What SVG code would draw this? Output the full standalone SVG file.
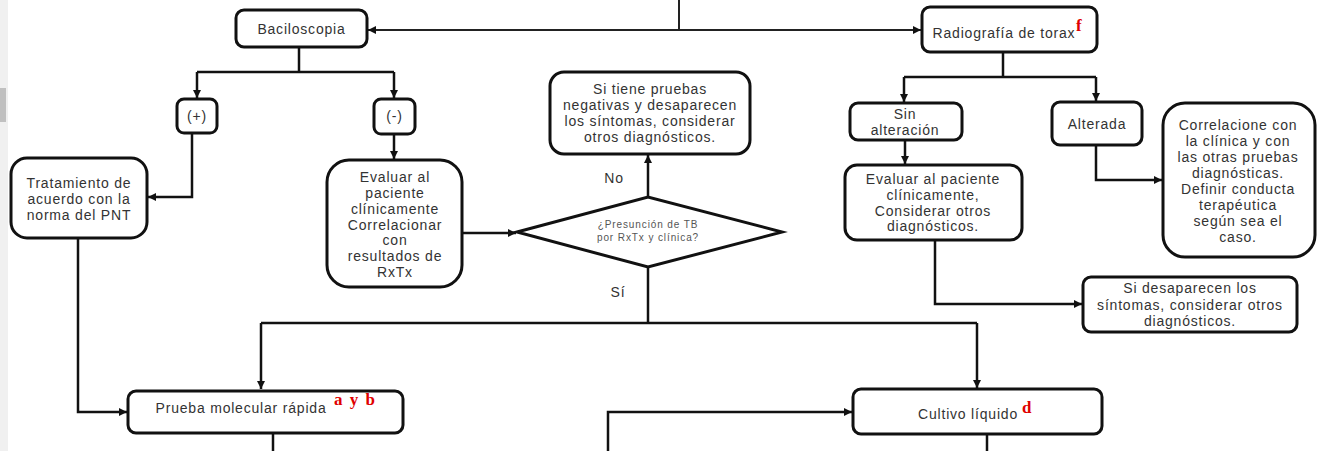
<svg xmlns="http://www.w3.org/2000/svg" width="1319" height="451" viewBox="0 0 1319 451">
  <defs>
    <marker id="arrow" viewBox="0 0 10 10" refX="10" refY="5" markerWidth="8" markerHeight="8" markerUnits="userSpaceOnUse" orient="auto">
      <path d="M0,0 L10,5 L0,10 z" fill="#111"/>
    </marker>
    <style>
      .box { fill: #fff; stroke: #111; stroke-width: 3; }
      .line { fill: none; stroke: #111; stroke-width: 2.5; }
      .thin { fill: none; stroke: #222; stroke-width: 2; }
      .t { font-family: "Liberation Sans", Arial, sans-serif; font-size: 14px; letter-spacing: 0.8px; fill: #333; text-anchor: middle; }
      .small { font-family: "Liberation Sans", Arial, sans-serif; font-size: 10px; letter-spacing: 0.9px; fill: #555; text-anchor: middle; }
      .sup { font-family: "Liberation Serif", "Times New Roman", serif; font-weight: bold; font-size: 17px; fill: #e00000; }
    </style>
  </defs>

  <!-- page background and viewer edge -->
  <rect x="0" y="0" width="1319" height="451" fill="#fff"/>
  <rect x="0" y="0" width="8" height="451" fill="#f0f0f0"/>
  <rect x="0" y="88" width="6" height="34" fill="#c0c0c0"/>

  <!-- connectors -->
  <g id="connectors">
    <path class="thin" d="M679,0 V30"/>
    <path class="thin" d="M679,30 H368" marker-end="url(#arrow)"/>
    <path class="thin" d="M679,30 H921" marker-end="url(#arrow)"/>

    <path class="line" d="M299,47 V72"/>
    <path class="line" d="M197,72 H394"/>
    <path class="line" d="M197,72 V98" marker-end="url(#arrow)"/>
    <path class="line" d="M394,72 V98" marker-end="url(#arrow)"/>

    <path class="line" d="M192,133 V197 H148" marker-end="url(#arrow)"/>
    <path class="line" d="M394,134 V159" marker-end="url(#arrow)"/>
    <path class="line" d="M78,238 V412 H127" marker-end="url(#arrow)"/>

    <path class="line" d="M462,233 H516" marker-end="url(#arrow)"/>
    <path class="line" d="M648,197 V155" marker-end="url(#arrow)"/>
    <path class="line" d="M648,267 V323"/>
    <path class="line" d="M261,323 H977"/>
    <path class="line" d="M261,323 V389" marker-end="url(#arrow)"/>
    <path class="line" d="M977,323 V388" marker-end="url(#arrow)"/>

    <path class="line" d="M273,433 V451"/>
    <path class="line" d="M608,451 V412 H852" marker-end="url(#arrow)"/>
    <path class="line" d="M987,434 V451"/>

    <path class="line" d="M1003,52 V77"/>
    <path class="line" d="M904,77 H1096"/>
    <path class="line" d="M904,77 V102" marker-end="url(#arrow)"/>
    <path class="line" d="M1096,77 V101" marker-end="url(#arrow)"/>
    <path class="line" d="M905,140 V164" marker-end="url(#arrow)"/>
    <path class="line" d="M1096,145 V180 H1162" marker-end="url(#arrow)"/>
    <path class="line" d="M935,240 V304 H1082" marker-end="url(#arrow)"/>
  </g>

  <!-- nodes -->
  <g id="baciloscopia">
    <rect class="box" x="236" y="10" width="131" height="37" rx="8"/>
    <text class="t" x="301.5" y="34">Baciloscopia</text>
  </g>

  <g id="positivo">
    <rect class="box" x="177" y="99" width="40" height="34" rx="7"/>
    <text class="t" x="197" y="121">(+)</text>
  </g>

  <g id="negativo">
    <rect class="box" x="374" y="99" width="41" height="35" rx="7"/>
    <text class="t" x="394.5" y="121">(-)</text>
  </g>

  <g id="tratamiento">
    <rect class="box" x="11" y="158" width="136" height="80" rx="16"/>
    <text class="t" x="79" y="188">Tratamiento de</text>
    <text class="t" x="79" y="204">acuerdo con la</text>
    <text class="t" x="79" y="220">norma del PNT</text>
  </g>

  <g id="evaluar-clinico">
    <rect class="box" x="327" y="160" width="135" height="127" rx="22"/>
    <text class="t" x="395" y="182">Evaluar al</text>
    <text class="t" x="395" y="198">paciente</text>
    <text class="t" x="395" y="214">clínicamente</text>
    <text class="t" x="395" y="230">Correlacionar</text>
    <text class="t" x="395" y="245">con</text>
    <text class="t" x="395" y="261">resultados de</text>
    <text class="t" x="395" y="277">RxTx</text>
  </g>

  <g id="presuncion">
    <polygon class="box" points="517,232 648,197 782,232 648,267"/>
    <text class="small" x="648" y="228">¿Presunción  de TB</text>
    <text class="small" x="648" y="241">por RxTx y clínica?</text>
  </g>

  <g id="labels">
    <text class="t" x="614" y="183">No</text>
    <text class="t" x="618" y="297">Sí</text>
  </g>

  <g id="pruebas-negativas">
    <rect class="box" x="550" y="72" width="200" height="82" rx="14"/>
    <text class="t" x="650" y="94">Si tiene pruebas</text>
    <text class="t" x="650" y="110">negativas y desaparecen</text>
    <text class="t" x="650" y="126">los síntomas, considerar</text>
    <text class="t" x="650" y="142">otros diagnósticos.</text>
  </g>

  <g id="prueba-molecular">
    <rect class="box" x="128" y="391" width="275" height="42" rx="8"/>
    <text class="t" x="241" y="413">Prueba molecular rápida</text>
    <text class="sup" x="334" y="405" letter-spacing="1.5">a y b</text>
  </g>

  <g id="cultivo">
    <rect class="box" x="853" y="389" width="249" height="45" rx="8"/>
    <text class="t" x="968" y="419" letter-spacing="0.5">Cultivo líquido</text>
    <text class="sup" x="1022" y="413">d</text>
  </g>

  <g id="radiografia">
    <rect class="box" x="922" y="7" width="175" height="45" rx="8"/>
    <text class="t" x="1004" y="38">Radiografía de torax</text>
    <text class="sup" x="1076" y="31">f</text>
  </g>

  <g id="sin-alteracion">
    <rect class="box" x="850" y="103" width="112" height="37" rx="8"/>
    <text class="t" x="905" y="119">Sin</text>
    <text class="t" x="905" y="135">alteración</text>
  </g>

  <g id="alterada">
    <rect class="box" x="1052" y="102" width="90" height="43" rx="8"/>
    <text class="t" x="1097" y="129">Alterada</text>
  </g>

  <g id="correlacione">
    <rect class="box" x="1163" y="103" width="152" height="154" rx="22"/>
    <text class="t" x="1238" y="130">Correlacione con</text>
    <text class="t" x="1238" y="146">la clínica y con</text>
    <text class="t" x="1238" y="162">las otras pruebas</text>
    <text class="t" x="1238" y="178">diagnósticas.</text>
    <text class="t" x="1238" y="194">Definir conducta</text>
    <text class="t" x="1238" y="210">terapéutica</text>
    <text class="t" x="1238" y="226">según sea el</text>
    <text class="t" x="1238" y="242">caso.</text>
  </g>

  <g id="evaluar-otros">
    <rect class="box" x="845" y="165" width="177" height="75" rx="12"/>
    <text class="t" x="933" y="184">Evaluar al paciente</text>
    <text class="t" x="933" y="200">clínicamente,</text>
    <text class="t" x="933" y="216">Considerar otros</text>
    <text class="t" x="933" y="231">diagnósticos.</text>
  </g>

  <g id="si-desaparecen">
    <rect class="box" x="1083" y="277" width="214" height="55" rx="8"/>
    <text class="t" x="1190" y="293">Si desaparecen los</text>
    <text class="t" x="1190" y="310">síntomas, considerar otros</text>
    <text class="t" x="1190" y="326">diagnósticos.</text>
  </g>
</svg>
